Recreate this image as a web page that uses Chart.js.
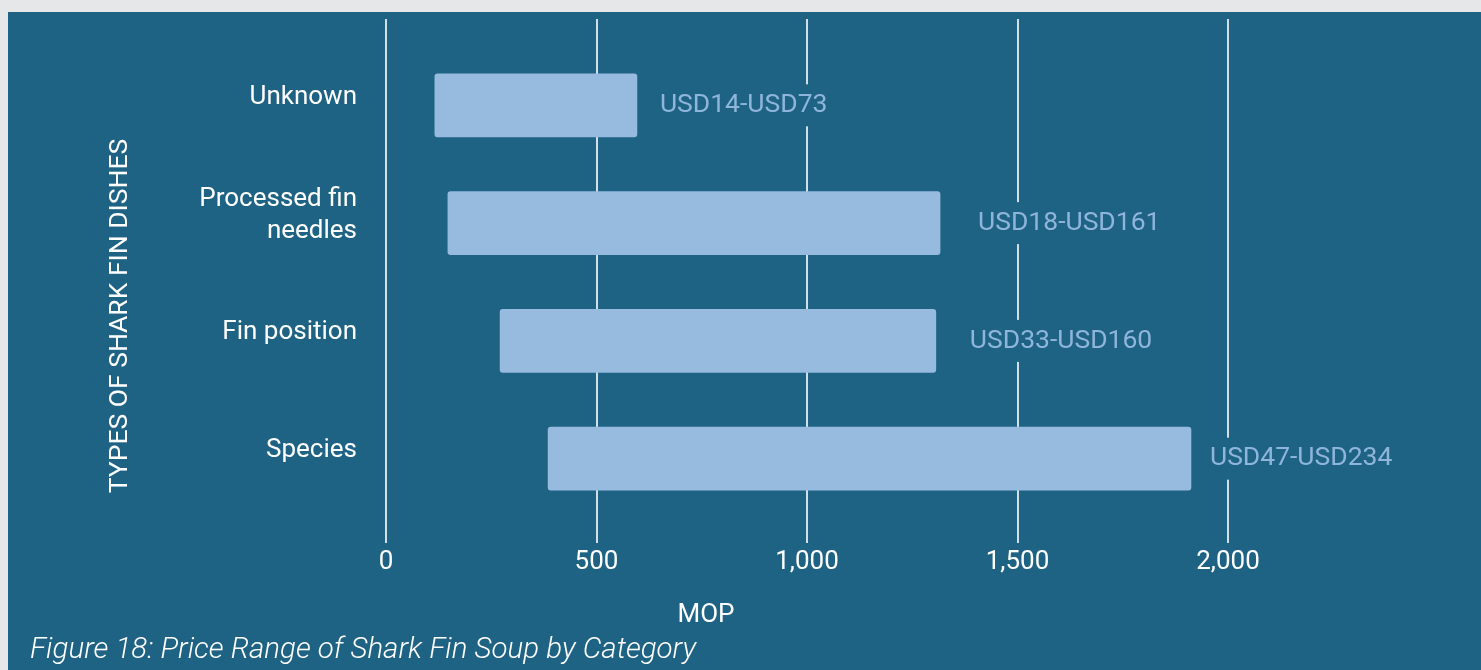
<!DOCTYPE html>
<html>
<head>
<meta charset="utf-8">
<script src="https://cdn.jsdelivr.net/npm/chart.js@4.4.1/dist/chart.umd.min.js"></script>
<style>
  html, body { margin: 0; padding: 0; background: #E6E7E9; width: 1481px; height: 670px; overflow: hidden; }
  #wrap { position: absolute; left: 8px; top: 12px; width: 1473px; height: 658px; background: #1F6384; }
  canvas { display: block; }
</style>
</head>
<body>
<div id="wrap"><canvas id="c" width="1473" height="658"></canvas></div>
<script>
// ---- data ----
const categories = ['Unknown', 'Processed fin needles', 'Fin position', 'Species'];
const tickLabels = ['Unknown', ['Processed fin', 'needles'], 'Fin position', 'Species'];
const lowMOP  = [116, 147, 271, 385];
const highMOP = [596, 1316, 1306, 1912];
const usdLabels = ['USD14-USD73', 'USD18-USD161', 'USD33-USD160', 'USD47-USD234'];
const xTicks = [0, 500, 1000, 1500, 2000];
const xTitle = 'MOP';
const yTitle = 'TYPES OF SHARK FIN DISHES';
const caption = 'Figure 18: Price Range of Shark Fin Soup by Category';
// label placement (style, not data)
const labelDx = [23, 38, 34, 19];

const BG = '#1F6384';
const FONT = 'Roboto, "Noto Sans", sans-serif';

const textPlugin = {
  id: 'texts',
  afterDatasetsDraw(chart) {
    const ctx = chart.ctx;
    const meta = chart.getDatasetMeta(0);
    ctx.save();
    ctx.font = '26.5px ' + FONT;
    ctx.textBaseline = 'middle';
    ctx.textAlign = 'left';
    meta.data.forEach((bar, i) => {
      const x = Math.max(bar.x, bar.base) + labelDx[i];
      const y = bar.y;
      const w = ctx.measureText(usdLabels[i]).width;
      ctx.fillStyle = BG;
      ctx.fillRect(x - 6, y - 21, w + 12, 42);
      ctx.fillStyle = '#8FB5DB';
      ctx.fillText(usdLabels[i], x, y);
    });
    ctx.restore();
  },
  afterDraw(chart) {
    const ctx = chart.ctx;
    ctx.save();
    ctx.fillStyle = '#FFFFFF';
    // y title
    ctx.save();
    ctx.translate(112, 304);
    ctx.rotate(-Math.PI / 2);
    ctx.font = '26.5px ' + FONT;
    ctx.textAlign = 'center';
    ctx.textBaseline = 'middle';
    ctx.fillText(yTitle, 0, 0);
    ctx.restore();
    // x title
    ctx.font = '26px ' + FONT;
    ctx.textAlign = 'center';
    ctx.textBaseline = 'middle';
    ctx.fillText(xTitle, 698, 603);
    // caption
    ctx.font = 'italic 300 29.5px ' + FONT;
    ctx.textAlign = 'left';
    ctx.fillText(caption, 22, 639);
    ctx.restore();
  }
};

new Chart(document.getElementById('c'), {
  type: 'bar',
  data: {
    labels: categories,
    datasets: [{
      data: categories.map((c, i) => ({ x: [lowMOP[i], highMOP[i]], y: i })),
      backgroundColor: '#97BADF',
      borderWidth: 0,
      borderRadius: 3,
      borderSkipped: false,
      barThickness: 63
    }]
  },
  options: {
    indexAxis: 'y',
    responsive: false,
    animation: false,
    layout: { padding: { top: 7, right: 253, left: 0, bottom: 0 } },
    plugins: { legend: { display: false }, tooltip: { enabled: false } },
    scales: {
      x: {
        type: 'linear',
        min: xTicks[0],
        max: xTicks[xTicks.length - 1],
        afterBuildTicks(scale) { scale.ticks = xTicks.map(v => ({ value: v })); },
        afterFit(scale) { scale.height = 127; },
        grid: { color: '#D3DFE8', lineWidth: 2, drawTicks: false },
        border: { display: false },
        ticks: {
          color: '#FFFFFF',
          font: { family: FONT, size: 26 },
          padding: 4,
          callback: v => v.toLocaleString('en-US')
        }
      },
      y: {
        type: 'linear',
        reverse: true,
        offset: false,
        grace: 0,
        min: -0.733,
        max: 3.716,
        afterBuildTicks(scale) { scale.ticks = categories.map((c, i) => ({ value: i })); },
        afterFit(scale) { scale.width = 378; scale.paddingTop = 0; scale.paddingBottom = 0; },
        grid: { display: false, drawTicks: false, offset: false },
        border: { display: false },
        ticks: {
          color: '#FFFFFF',
          font: { family: FONT, size: 26, lineHeight: 1.23 },
          padding: 29,
          labelOffset: -8,
          callback: v => tickLabels[v]
        }
      }
    }
  },
  plugins: [textPlugin]
});
</script>
</body>
</html>
